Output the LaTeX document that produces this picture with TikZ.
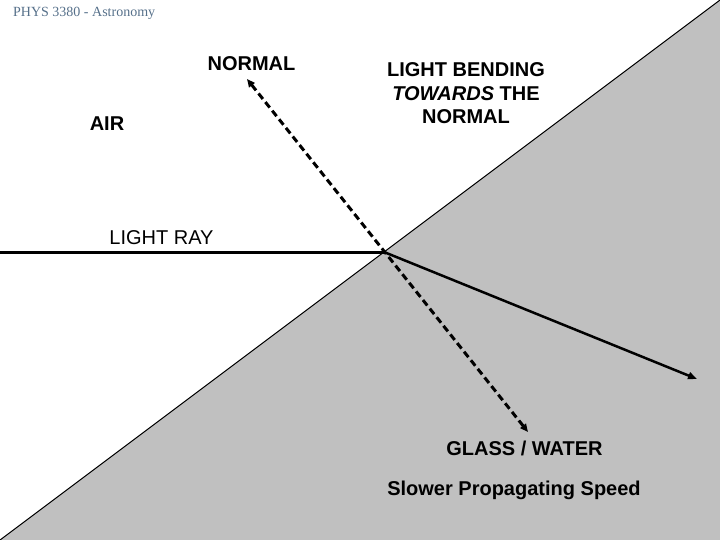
\documentclass[tikz,border=0pt]{standalone}
\usepackage{fontspec}
\setmainfont{Liberation Sans}
\newfontfamily\headfont{Liberation Serif}
\usetikzlibrary{arrows.meta}
\definecolor{glassgray}{HTML}{C0C0C0}
\definecolor{headblue}{HTML}{56708A}
\tikzset{
  lbl/.style    ={font=\fontsize{20}{23.5}\selectfont\bfseries, inner sep=0pt,
                  anchor=base},
  lblthin/.style={lbl, font=\fontsize{20}{23.5}\selectfont},
  ray/.style    ={line width=2.5pt, draw=black},
  normline/.style={line width=3pt, dash pattern=on 7pt off 4pt,
                  {Triangle[length=8pt,width=7pt]}-{Triangle[length=8pt,width=7pt]}},
  surface/.style={line width=1pt, draw=black}
}

\begin{document}
\begin{tikzpicture}[x=1pt,y=-1pt]
  \useasboundingbox (0,0) rectangle (720,540);
  \coordinate (bl)   at (0,540);
  \coordinate (tr)   at (720,0);
  \coordinate (br)   at (720,540);
  \coordinate (hit)  at (384,252);
  \coordinate (src)  at (0,252);
  \coordinate (out)  at (697,379);
  \coordinate (ntop) at (247,79);
  \coordinate (nbot) at (528,432);

  \fill[glassgray] (bl) -- (tr) -- (br) -- cycle;
  \draw[surface] (bl) -- (tr);

  \node[anchor=base west, inner sep=0pt, text=headblue,
        font=\headfont\fontsize{14}{16}\selectfont] (course) at (13,17) {PHYS 3380 - Astronomy};
  \node[lbl]     (normal)  at (251.5,71) {NORMAL};
  \node[lbl]     (air)     at (107,131)  {AIR};
  \node[lblthin] (lightray) at (161.5,244) {LIGHT RAY};
  \node[lbl, align=center] (bending) at (466,124) {LIGHT BENDING\\\textit{TOWARDS} THE\\NORMAL};
  \node[lbl]     (glass)   at (524.5,455) {GLASS / WATER};
  \node[lbl]     (slower)  at (514,495)   {Slower Propagating Speed};

  \draw[ray, line width=3pt] (src) -- (hit);
  \draw[ray, -{Triangle[length=9pt,width=7pt]}] (hit) -- (out);
  \draw[normline] (ntop) -- (nbot);
\end{tikzpicture}
\end{document}
